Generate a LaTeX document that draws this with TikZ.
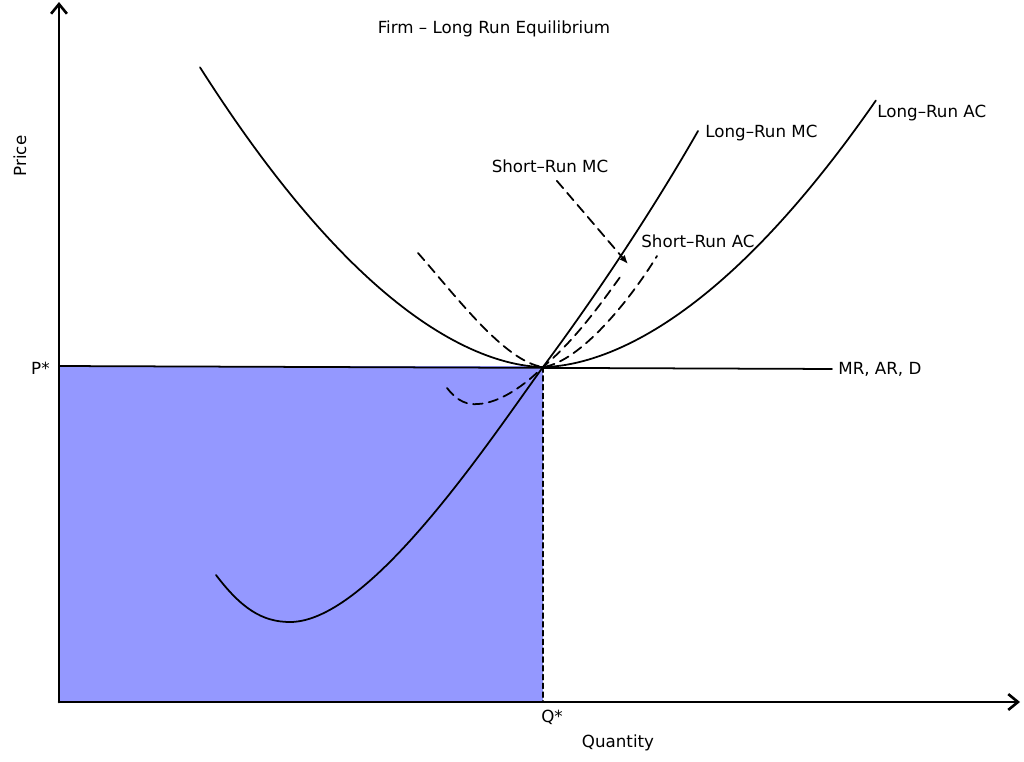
\documentclass[tikz,border=0pt]{standalone}
\usepackage{fontspec}
\setmainfont{DejaVu Sans}
\usetikzlibrary{arrows.meta}
\definecolor{revenue}{RGB}{148,152,255}
\tikzset{
  axis/.style={line width=1.5pt, -{Straight Barb[length=5.5pt,width=9pt]}},
  curve/.style={line width=1pt},
  dcurve/.style={line width=1pt, dash pattern=on 5.5pt off 3.5pt},
  guide/.style={line width=0.8pt, dash pattern=on 3pt off 2pt},
  lbl/.style={font=\fontsize{9.5}{11}\selectfont, inner sep=0pt},
}
\begin{document}
\begin{tikzpicture}[x=0.02cm, y=-0.02cm, line cap=round, line join=round]
	\useasboundingbox (0,0) rectangle (1024,761);
	\coordinate (O) at (59,702);
	\coordinate (ytip) at (59,2);
	\coordinate (xtip) at (1020,702);
	\coordinate (P) at (59,366);
	\coordinate (E) at (543,367);
	\coordinate (Q) at (543,702);
	\coordinate (arrowend) at (628,264);
	% revenue area
	\fill[revenue] (P) rectangle (Q);
	% labels
	\node[lbl] (title) at (494,29) {Firm – Long Run Equilibrium};
	\node[lbl, rotate=90] (price) at (20,156) {Price};
	\node[lbl] (quantity) at (618,743) {Quantity};
	\node[lbl, anchor=east] (pstar) at (50,368) {P*};
	\node[lbl] (qstar) at (552,717) {Q*};
	\node[lbl, anchor=west] (mr) at (838,369) {MR, AR, D};
	\node[lbl, anchor=west] (lrmc) at (705,133) {Long–Run MC};
	\node[lbl, anchor=west] (lrac) at (877,113) {Long–Run AC};
	\node[lbl, anchor=west] (srac) at (641,241) {Short–Run AC};
	\node[lbl] (srmc) at (550,166) {Short–Run MC};
	% demand line and Q* guide
	\draw[curve, shorten >=3.4pt] (P) -- (mr.west);
	\draw[guide] (E) -- (Q);
	% long run AC
	\draw[curve] plot[domain=-3.43:3.33, samples=121] ({543+100*\x}, {367-(\x<0?32.6:30.6)*abs(\x)^1.8});
	% long run MC
	\draw[curve] (216,575) .. controls (241,608) and (262,622) .. (290,622)
		.. controls (370,622) and (490,440) .. (E)
		.. controls (590,304) and (650,215) .. (698,131);
	% short run AC
	\draw[dcurve] (418,253) .. controls (455,295) and (505,362) .. (E)
		.. controls (580,362) and (630,300) .. (657,256);
	% short run MC
	\draw[dcurve] (447,388) .. controls (458,402) and (468,405) .. (478,404)
		.. controls (500,403) and (525,385) .. (E)
		.. controls (575,340) and (600,305) .. (623,273);
	\draw[dcurve, shorten <=6pt, -{Latex[length=5pt,width=4pt]}] (srmc.south) -- (arrowend);
	% axes
	\draw[axis] (O) -- (ytip);
	\draw[axis] (O) -- (xtip);
\end{tikzpicture}
\end{document}
